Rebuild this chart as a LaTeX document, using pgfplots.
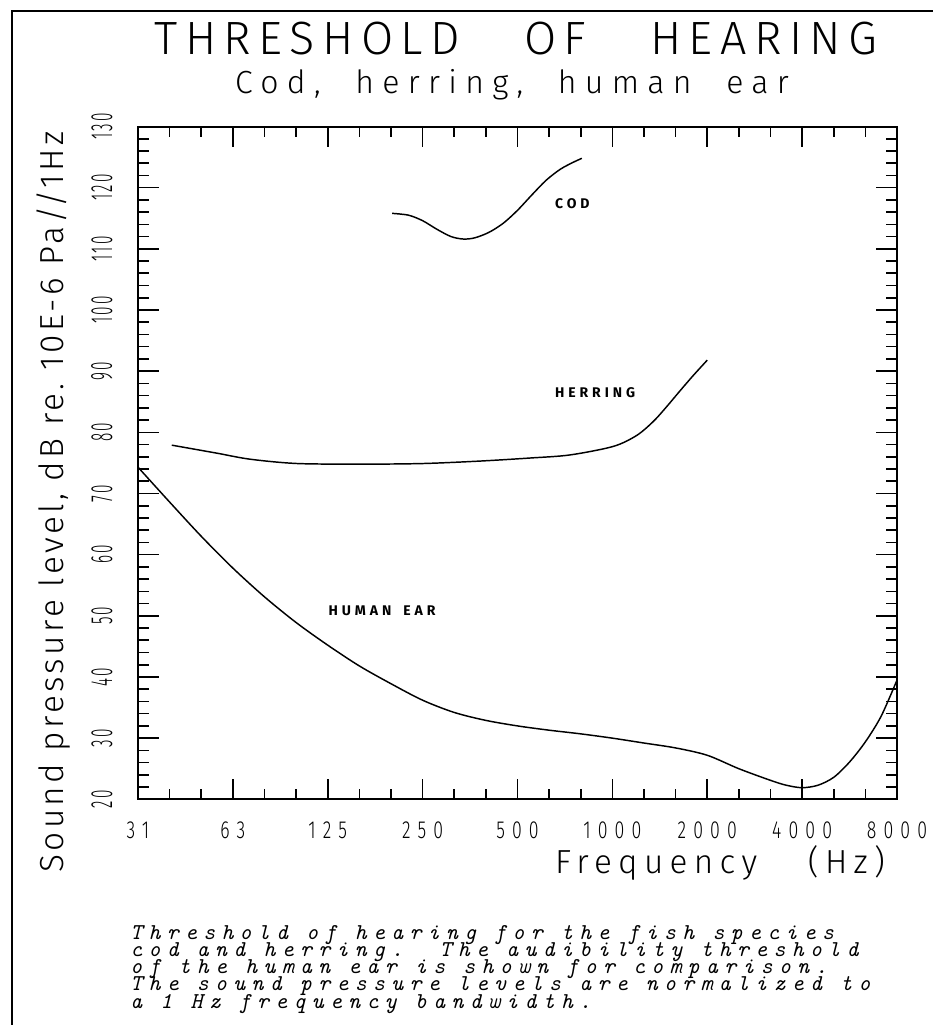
\documentclass[border=0pt]{standalone}
\usepackage{pgfplots}
\usepackage{graphicx}
\pgfplotsset{compat=1.18}
\usepackage{fontspec}
\newfontfamily\titlefont{Fira Sans Light}[LetterSpace=16]
\newfontfamily\subfont{Fira Sans Light}[LetterSpace=26]
\newfontfamily\ylabfont{Fira Sans Light}[LetterSpace=10]
\newfontfamily\xlabfont{Fira Sans Light}[LetterSpace=19]
\newfontfamily\xtickfont{Fira Sans Light}[LetterSpace=40]
\newfontfamily\ytickfont{Fira Sans Light}[LetterSpace=14]
\newfontfamily\curvefont{Fira Sans}[LetterSpace=28]
\newfontfamily\capfont{Latin Modern Mono}[LetterSpace=28]
\frenchspacing
\begin{document}
\begin{tikzpicture}
\begin{scope}[x=0.75pt,y=-0.75pt]
\path[use as bounding box] (0,0) rectangle (933,1025);
\draw[line width=1pt] (12,1025) -- (12,11) -- (933,11);
\node[anchor=base, inner sep=0pt, font=\titlefont\fontsize{35}{38}\selectfont] at (516,54) {THRESHOLD\hspace{48pt}OF\hspace{48pt}HEARING};
\node[anchor=base, inner sep=0pt, font=\subfont\fontsize{24}{26}\selectfont] at (512,93) {Cod,\hspace{26pt}herring,\hspace{26pt}human\hspace{26pt}ear};
\node[anchor=base, inner sep=0pt, rotate=90, font=\ylabfont\fontsize{25}{28}\selectfont] at (63,502) {Sound pressure level, dB re.\ 10E-6 Pa//1Hz};
\node[anchor=base, inner sep=0pt, font=\xlabfont\fontsize{25}{28}\selectfont] at (720,873) {Frequency\hspace{38pt}(Hz)};
\begin{scope}[every node/.style={anchor=base west, inner sep=0pt, font=\capfont\itshape\fontsize{17}{17}\selectfont}]
\node at (130,939) {Threshold of hearing for the fish species};
\node at (130,956.25) {cod and herring.\ \ The audibility threshold};
\node at (130,973.5) {of the human ear is shown for comparison.};
\node at (130,990.75) {The sound pressure levels are normalized to};
\node at (130,1008) {a 1 Hz frequency bandwidth.};
\end{scope}
\end{scope}
\begin{axis}[
  at={(103.5pt,-599.475pt)}, anchor=south west,
  scale only axis, width=569.25pt, height=504.6pt,
  xmode=log,
  xmin=31.25, xmax=8000, ymin=20, ymax=130,
  xtick={31.25,62.5,125,250,500,1000,2000,4000,8000},
  xticklabels={31,63,125,250,500,1000,2000,4000,8000},
  minor xtick={39.373,49.606,78.745,99.213,157.49,198.43,314.98,396.85,629.96,793.70,1259.92,1587.40,2519.84,3174.80,5039.68,6349.60},
  ytick={20,30,...,130}, minor y tick num=4,
  tick align=inside,
  major tick length=15.5pt, minor tick length=8pt,
  every tick/.style={black, line width=1.2pt},
  axis line style={line width=1.5pt},
  /pgf/number format/assume math mode=true,
  xticklabel style={font=\xtickfont\fontsize{18.5}{18.5}\selectfont, anchor=north, inner sep=0pt, xscale=0.72},
  xticklabel shift=17pt,
  yticklabel={\scalebox{0.5}[1]{\pgfmathprintnumber{\tick}}},
  yticklabel style={font=\ytickfont\fontsize{23}{23}\selectfont, xshift=-19pt, rotate=90, anchor=south, inner sep=0pt},
]
% Cod
\addplot[black, line width=1.1pt, smooth] coordinates {
(200,115.8) (225.5,115.5) (250,114.6) (277.4,113.2) (307.8,112.0) (336.8,111.6) (366,111.8) (406,112.7) (451,114.2) (500,116.3) (555,118.8) (616,121.2) (683,123.0) (748,124.1) (800,124.8)
};
% Herring
\addplot[black, line width=1.1pt, smooth] coordinates {
(40,77.9) (55.5,76.6) (71,75.6) (100,74.9) (162,74.8) (251,74.9) (380,75.3) (548,75.8) (733,76.3) (1007,77.7) (1195,79.5) (1350,81.8) (1487,84.2) (1640,86.8) (1806,89.3) (2000,91.8)
};
% Human ear
\addplot[black, line width=1.1pt, smooth] coordinates {
(31.25,74.3) (39.37,68.6) (49.61,63.0) (62.5,57.8) (78.75,53.1) (99.21,48.9) (125,45.2) (157.5,41.8) (198.4,38.9) (250,36.2) (315,34.2) (396.9,32.9) (500,32.0) (630,31.3) (793.7,30.7) (1000,30.0) (1260,29.2) (1587,28.4) (2000,27.2) (2520,25.0) (3175,23.1) (3564,22.3) (4000,21.9) (4490,22.3) (5040,23.6) (5657,26.1) (6350,29.4) (7127,33.6) (8000,39.5)
};
\node[anchor=west, inner sep=0pt, font=\curvefont\bfseries\fontsize{10.5}{11}\selectfont] at (axis cs:657,117.4) {COD};
\node[anchor=west, inner sep=0pt, font=\curvefont\bfseries\fontsize{10.5}{11}\selectfont] at (axis cs:657,86.5) {HERRING};
\node[anchor=west, inner sep=0pt, font=\curvefont\bfseries\fontsize{10.5}{11}\selectfont] at (axis cs:125.6,50.8) {HUMAN\hspace{9pt}EAR};
\end{axis}
\end{tikzpicture}
\end{document}
